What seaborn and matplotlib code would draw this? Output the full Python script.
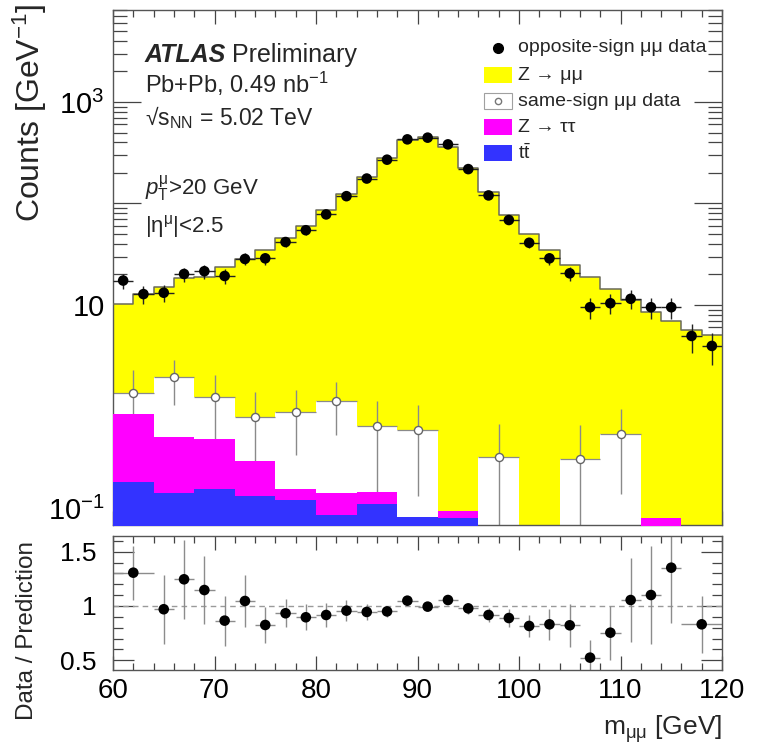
import numpy as np
import pandas as pd
import matplotlib
matplotlib.use("Agg")
import matplotlib.pyplot as plt
import seaborn as sns
from matplotlib import font_manager
from matplotlib.patches import Rectangle
from matplotlib.lines import Line2D
from matplotlib.ticker import FixedLocator, MultipleLocator, NullFormatter, FuncFormatter, LogLocator

# ---------------- data ----------------
mass_edges = list(range(60, 122, 2))            # 2 GeV bins, 60..120
os_data = [17.4, 12.8, 13.2, 20.2, 21.5, 19.3, 28.4, 28.8, 41.7, 54.5,
           78.0, 118.0, 176.0, 270.0, 428.0, 445.0, 382.0, 218.0, 120.0, 68.7,
           41.0, 28.8, 20.5, 9.5, 10.4, 11.5, 9.5, 9.5, 4.95, 3.95]
os_err = [2.95, 2.53, 2.57, 3.18, 3.28, 3.10, 3.77, 3.79, 4.57, 5.20,
          6.2, 7.7, 9.4, 11.6, 14.6, 14.9, 13.8, 10.4, 7.7, 5.9,
          4.5, 3.8, 3.2, 2.2, 2.3, 2.4, 2.2, 2.2, 1.57, 1.40]
z_mumu = [8.85, 11.45, 12.9, 16.3, 17.8, 22.6, 27.4, 34.0, 44.4, 58.6,
          84.9, 122.9, 183.4, 277.4, 420.4, 446.4, 362.9, 221.9, 129.7, 76.7,
          50.0, 34.8, 24.5, 18.4, 13.8, 10.7, 8.5, 6.8, 5.7, 5.1]

coarse_edges = list(range(60, 124, 4))          # 4 GeV bins, 60..120
same_sign = [0.51, 1.47, 0.75, 0.50, 0.735, 0.99, 0.495, 0.50, 0.0, 0.316,
             0.0, 0.305, 0.536, 0.0, 0.0]
same_sign_err = [0.95, 0.93, 0.80, 0.60, 0.56, 0.61, 0.50, 0.45, 0.0, 0.35,
                 0.0, 0.35, 0.40, 0.0, 0.0]
z_tautau = [0.659, 0.358, 0.325, 0.158, 0.036, 0.057, 0.036, 0.0, 0.0125, 0.0,
            0.0, 0.0, 0.0, 0.080, 0.0]
ttbar = [0.181, 0.142, 0.155, 0.132, 0.119, 0.085, 0.109, 0.081, 0.080, 0.0,
         0.0, 0.0, 0.0, 0.0, 0.0]

ratio_edges = [60, 64] + list(range(66, 118, 2)) + [120]
ratio = [1.307, 0.97, 1.246, 1.147, 0.865, 1.046, 0.825, 0.933, 0.896, 0.917,
         0.957, 0.945, 0.95, 1.049, 0.994, 1.055, 0.978, 0.917, 0.889, 0.816,
         0.831, 0.822, 0.524, 0.754, 1.055, 1.101, 1.353, 0.831]
ratio_err = [0.25, 0.32, 0.365, 0.315, 0.23, 0.24, 0.17, 0.13, 0.12, 0.11,
             0.10, 0.075, 0.05, 0.04, 0.035, 0.04, 0.05, 0.065, 0.08, 0.10,
             0.14, 0.20, 0.16, 0.25, 0.385, 0.45, 0.51, 0.26]

main_tick_labels = {0.1: r'$10^{-1}$', 10: '10', 1000: r'$10^{3}$'}
ratio_tick_labels = {0.5: '0.5', 1.0: '1', 1.5: '1.5'}

# ---------------- style ----------------
names = {f.name for f in font_manager.fontManager.ttflist}
narrow = 'Liberation Sans Narrow' if 'Liberation Sans Narrow' in names else 'Liberation Sans'
regular = 'Liberation Sans'

sns.set_style('ticks')
plt.rcParams['font.family'] = [narrow, 'DejaVu Sans']
plt.rcParams['mathtext.fontset'] = 'custom'
plt.rcParams['mathtext.rm'] = narrow
plt.rcParams['mathtext.it'] = narrow + ':italic'
plt.rcParams['mathtext.bf'] = narrow + ':bold'
plt.rcParams['mathtext.sf'] = narrow

YELLOW, MAGENTA, BLUE = '#ffff00', '#ff00ff', '#3333ff'
W, H = 759, 744
fig = plt.figure(figsize=(W / 100, H / 100), dpi=100)


def fx(px):
    return px / W


def fy(py):
    return 1 - py / H


ax = fig.add_axes([fx(113), fy(525), fx(722) - fx(113), fy(10) - fy(525)])
rx = fig.add_axes([fx(113), fy(670), fx(722) - fx(113), fy(536) - fy(670)])

# ---------------- stacked histogram ----------------
edges = np.array(mass_edges, dtype=float)
tt_f = np.repeat(ttbar, 2)
tau_f = np.repeat(z_tautau, 2)
ss_f = np.repeat(same_sign, 2)
c_tt = tt_f
c_tau = c_tt + tau_f
c_ss = c_tau + ss_f
c_tot = c_ss + np.array(z_mumu)
floor = 1e-4


def stepfill(vals, color, z):
    y = np.maximum(np.append(vals, vals[-1]), floor)
    ax.fill_between(edges, floor, y, step='post', color=color, lw=0, zorder=z)


stepfill(c_tot, YELLOW, 1)
stepfill(c_ss, 'white', 2)
stepfill(c_tau, MAGENTA, 3)
stepfill(c_tt, BLUE, 4)
ax.step(edges, np.append(c_tot, c_tot[-1]), where='post', color='#6a6a5a', lw=1.1, zorder=5)

# same-sign tops and points
cedges = np.array(coarse_edges, dtype=float)
ccent = (cedges[:-1] + cedges[1:]) / 2
ss_top = np.array(ttbar) + np.array(z_tautau) + np.array(same_sign)
mask = np.array(same_sign) > 0
ax.hlines(ss_top[mask], cedges[:-1][mask], cedges[1:][mask], color='#8a8a8a', lw=0.9, zorder=2.2)
ax.errorbar(ccent[mask], ss_top[mask], yerr=np.array(same_sign_err)[mask], fmt='none',
            ecolor='#8a8a8a', elinewidth=1, capsize=0, zorder=2.5)
ax.scatter(ccent[mask], ss_top[mask], s=34, facecolor='white', edgecolor='#666666',
           linewidth=1, zorder=7)

# opposite-sign data
cent = (edges[:-1] + edges[1:]) / 2
ax.errorbar(cent, os_data, yerr=os_err, xerr=1.0, fmt='none', ecolor='#222222',
            elinewidth=1, capsize=0, zorder=8)
df_os = pd.DataFrame({'m': cent, 'counts': os_data})
sns.scatterplot(data=df_os, x='m', y='counts', ax=ax, color='black', s=58,
                edgecolor='none', zorder=9, legend=False)

ax.set_yscale('log')
ax.set_xlim(60, 120)
ax.set_ylim(0.068, 8050)
ax.set_xlabel('')
ax.set_ylabel('')

# ---------------- ratio panel ----------------
redges = np.array(ratio_edges, dtype=float)
rcent = (redges[:-1] + redges[1:]) / 2
rx.axhline(1.0, color='#9a9a9a', lw=1, ls=(0, (4, 3)), zorder=1)
rx.errorbar(rcent, ratio, yerr=ratio_err, xerr=[rcent - redges[:-1], redges[1:] - rcent],
            fmt='none', ecolor='#8c8c8c', elinewidth=1, capsize=0, zorder=2)
df_r = pd.DataFrame({'m': rcent, 'ratio': ratio})
sns.scatterplot(data=df_r, x='m', y='ratio', ax=rx, color='black', s=58,
                edgecolor='none', zorder=3, legend=False)
rx.set_xlim(60, 120)
rx.set_ylim(0.41, 1.645)
rx.set_xlabel('')
rx.set_ylabel('')

# ---------------- ticks ----------------
for a in (ax, rx):
    a.tick_params(which='both', direction='in', top=True, right=True,
                  color='#444444', labelcolor='black', width=0.9)
    for s in a.spines.values():
        s.set_color('#555555')
        s.set_linewidth(1.0)
    a.xaxis.set_major_locator(MultipleLocator(10))
    a.xaxis.set_minor_locator(MultipleLocator(2))
    a.tick_params(axis='x', which='major', length=10)
    a.tick_params(axis='x', which='minor', length=5)

ax.tick_params(axis='x', labelbottom=False)
ax.yaxis.set_major_locator(FixedLocator([0.1, 1, 10, 100, 1000]))
ax.yaxis.set_major_formatter(FuncFormatter(lambda v, p: main_tick_labels.get(round(v, 3), '')))
ax.yaxis.set_minor_locator(LogLocator(base=10, subs=np.arange(2, 10)))
ax.yaxis.set_minor_formatter(NullFormatter())
ax.tick_params(axis='y', which='major', length=20, labelsize=21, pad=6)
ax.tick_params(axis='y', which='minor', length=10)

rx.yaxis.set_major_locator(FixedLocator([0.5, 1.0, 1.5]))
rx.yaxis.set_major_formatter(FuncFormatter(lambda v, p: ratio_tick_labels.get(round(v, 2), '')))
rx.yaxis.set_minor_locator(MultipleLocator(0.1))
rx.tick_params(axis='y', which='major', length=15, labelsize=19, pad=12)
rx.tick_params(axis='y', which='minor', length=7)
rx.tick_params(axis='x', labelsize=20, pad=6)

# ---------------- labels ----------------
fig.text(fx(30), fy(3), 'Counts [GeV$^{-1}$]', rotation=90, ha='center', va='top',
         fontsize=23, family=[regular, 'DejaVu Sans'])
fig.text(fx(27), fy(631), 'Data / Prediction', rotation=90, ha='center', va='center',
         fontsize=17.5, family=[regular, 'DejaVu Sans'])
fig.text(fx(722), fy(735), 'm$_{\\mathrm{μμ}}$ [GeV]', ha='right', va='baseline', fontsize=19)

# ---------------- annotations ----------------
t_atlas = fig.text(fx(145), fy(62), 'ATLAS', fontsize=18, fontweight='bold', fontstyle='italic',
                   va='baseline', ha='left')
renderer = fig.canvas.get_renderer()
bb = t_atlas.get_window_extent(renderer)
fig.text(fx(bb.x1 + 6), fy(62), 'Preliminary', fontsize=18, va='baseline', ha='left')
fig.text(fx(145), fy(93), r'Pb+Pb, 0.49 nb$^{-1}$', fontsize=17, va='baseline', ha='left')
fig.text(fx(145), fy(125), '√s$_{\\mathrm{NN}}$ = 5.02 TeV', fontsize=16.5,
         va='baseline', ha='left')
fig.text(fx(145), fy(195), '$p_{\\mathrm{T}}^{\\mathrm{μ}}$>20 GeV', fontsize=16,
         va='baseline', ha='left')
fig.text(fx(145), fy(232), '|η$^{\\mathrm{μ}}$|<2.5', fontsize=16, va='baseline', ha='left')

# ---------------- legend ----------------
leg_fs = 14
tx = fx(518)
fig.add_artist(Line2D([fx(498)], [fy(48)], marker='o', color='black', markersize=7,
                      linestyle='none', transform=fig.transFigure))
fig.text(tx, fy(48), 'opposite-sign μμ data', fontsize=leg_fs, va='center', ha='left')

entries = [(75, YELLOW, 'none', 'Z → μμ'),
           (101, 'white', '#a0a0a0', 'same-sign μμ data'),
           (127, MAGENTA, 'none', 'Z → ττ'),
           (153, BLUE, 'none', r'$\mathrm{t}\bar{\mathrm{t}}$')]
for yc, fc, ec, lab in entries:
    fig.add_artist(Rectangle((fx(484), fy(yc + 8)), fx(512) - fx(484), fy(yc - 8) - fy(yc + 8),
                             facecolor=fc, edgecolor=ec, lw=0.8, transform=fig.transFigure))
    fig.text(tx, fy(yc), lab, fontsize=leg_fs, va='center', ha='left')
fig.add_artist(Line2D([fx(498)], [fy(101)], marker='o', markerfacecolor='white',
                      markeredgecolor='#777777', markersize=4.5, linestyle='none',
                      transform=fig.transFigure))

fig.savefig('out.png', dpi=100)
